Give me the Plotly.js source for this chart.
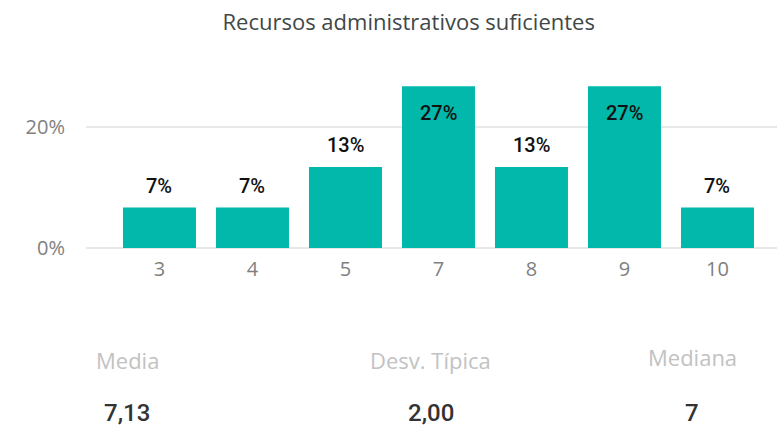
<!DOCTYPE html>
<html><head><meta charset="utf-8">
<script src="https://cdn.plot.ly/plotly-3.0.1.min.js"></script>
<style>html,body{margin:0;padding:0;background:#fff}#chart{width:777px;height:427px}</style>
</head><body><div id="chart"></div>
<script>
const chartTitle = "Recursos administrativos suficientes";
const categories = ["3", "4", "5", "7", "8", "9", "10"];
const shares = [0.0667, 0.0667, 0.1333, 0.2667, 0.1333, 0.2667, 0.0667];
const barLabels = ["7%", "7%", "13%", "27%", "13%", "27%", "7%"];
const statNames = ["Media", "Desv. Típica", "Mediana"];
const statValues = ["7,13", "2,00", "7"];

const yTop = 0.29;
const annotations = categories.map((c, i) => {
  const inside = shares[i] > 0.2;
  return {
    x: i, y: shares[i], xref: 'x', yref: 'y', text: barLabels[i], showarrow: false,
    yanchor: 'middle', yshift: inside ? -27 : 22,
    font: {family: 'Roboto, sans-serif', size: 20, color: '#111', weight: 500}
  };
});
const statX = [0.06, 0.499, 0.877];
const statLabelY = [-0.638, -0.638, -0.621];
statNames.forEach((n, i) => {
  annotations.push({x: statX[i], y: statLabelY[i], xref: 'paper', yref: 'paper', text: n, showarrow: false,
    xanchor: 'center', yanchor: 'middle', font: {family: '"Open Sans", sans-serif', size: 22, color: '#c2c2c2'}});
  annotations.push({x: statX[i], y: -0.94, xref: 'paper', yref: 'paper', text: statValues[i], showarrow: false,
    xanchor: 'center', yanchor: 'middle', font: {family: 'Roboto, sans-serif', size: 24, color: '#333', weight: 500}});
});

Plotly.newPlot('chart', [{
  type: 'bar', x: categories, y: shares,
  marker: {color: '#01B8AA'}, hoverinfo: 'skip'
}], {
  width: 777, height: 427,
  margin: {l: 86, r: 0, t: 72, b: 179},
  paper_bgcolor: '#fff', plot_bgcolor: '#fff',
  bargap: 0.215,
  showlegend: false,
  title: {text: chartTitle, x: 0.526, xanchor: 'center', y: 0.948, yanchor: 'middle',
    font: {family: '"Open Sans", sans-serif', size: 22, color: '#3f4848'}},
  xaxis: {type: 'category', range: [-0.79, 6.64], showgrid: false, zeroline: false, showline: false,
    ticks: '', ticklabelstandoff: 7,
    tickfont: {family: '"Open Sans", sans-serif', size: 20, color: '#808080'}},
  yaxis: {range: [0, yTop], tickvals: [0, 0.2], tickformat: '.0%',
    showgrid: true, gridcolor: '#e8e8e8', gridwidth: 2, zeroline: true, zerolinecolor: '#e8e8e8', zerolinewidth: 2,
    showline: false, ticks: '', ticklabelstandoff: 20,
    tickfont: {family: '"Open Sans", sans-serif', size: 20, color: '#808080'}},
  annotations: annotations
}, {displayModeBar: false, staticPlot: true});
</script></body></html>
